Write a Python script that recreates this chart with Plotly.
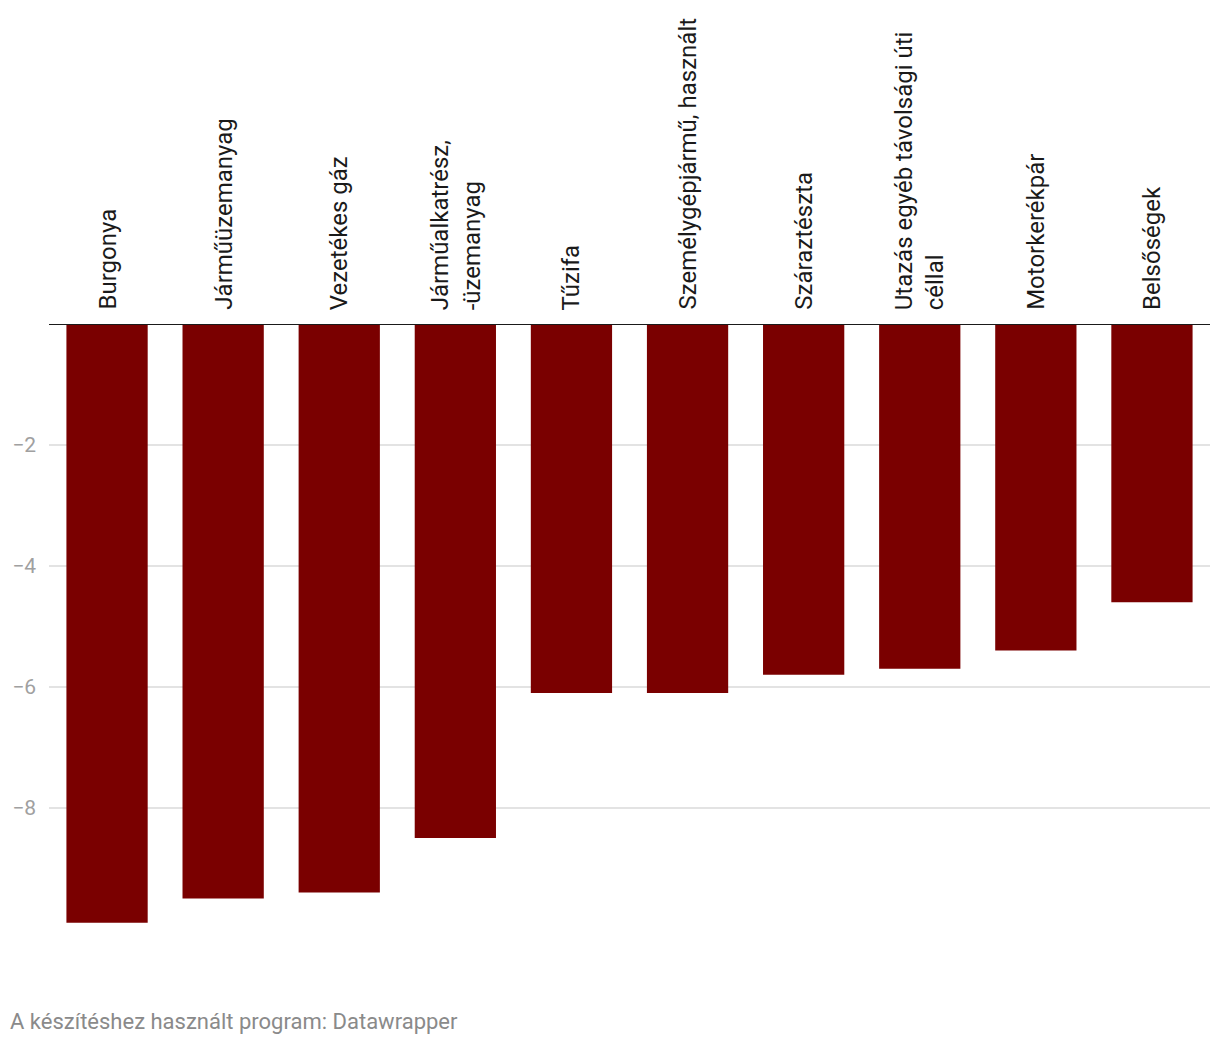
import plotly.graph_objects as go

categories = [
    "Burgonya",
    "Járműüzemanyag",
    "Vezetékes gáz",
    "Járműalkatrész,<br>-üzemanyag",
    "Tűzifa",
    "Személygépjármű, használt",
    "Száraztészta",
    "Utazás egyéb távolsági úti<br>céllal",
    "Motorkerékpár",
    "Belsőségek",
]
values = [-9.9, -9.5, -9.4, -8.5, -6.1, -6.1, -5.8, -5.7, -5.4, -4.6]
tick_vals = [-2, -4, -6, -8]
footer = "A készítéshez használt program: Datawrapper"

fig = go.Figure()
fig.add_trace(go.Bar(
    x=list(range(len(categories))),
    y=values,
    marker=dict(color="#7a0000", line=dict(width=0)),
    width=0.7,
    hoverinfo="skip",
))

for i, c in enumerate(categories):
    fig.add_annotation(
        x=i, y=0, xref="x", yref="y",
        text=c, textangle=-90, showarrow=False,
        xanchor="center", yanchor="bottom", yshift=12,
        align="left",
        font=dict(family="Roboto", size=24, color="#1a1a1a"),
    )

fig.add_annotation(
    x=0, y=0, xref="paper", yref="paper", xshift=-41, yshift=-62,
    xanchor="left", yanchor="middle", showarrow=False,
    text=footer, font=dict(family="Roboto", size=22, color="#8a8a8a"),
)

fig.add_shape(type="line", xref="paper", yref="y", x0=0, x1=1, y0=0, y1=0,
              line=dict(color="#1a1a1a", width=2), layer="above")

fig.update_layout(
    width=1220, height=1036,
    margin=dict(l=41, r=18, t=316, b=85),
    paper_bgcolor="white", plot_bgcolor="white",
    showlegend=False,
    bargap=0.3,
    xaxis=dict(range=[-0.5, len(categories) - 0.5], showticklabels=False,
               showgrid=False, zeroline=False, fixedrange=True,
               automargin=False),
    yaxis=dict(range=[-10.5, 0], tickvals=tick_vals,
               ticktext=["−2", "−4", "−6", "−8"],
               showgrid=True, gridcolor="#e3e3e3", gridwidth=2,
               zeroline=False, ticks="", ticklabelstandoff=12,
               automargin=False,
               tickfont=dict(family="Roboto", size=21, color="#a0a0a0")),
    font=dict(family="Roboto"),
)

fig.write_html("out.html")
